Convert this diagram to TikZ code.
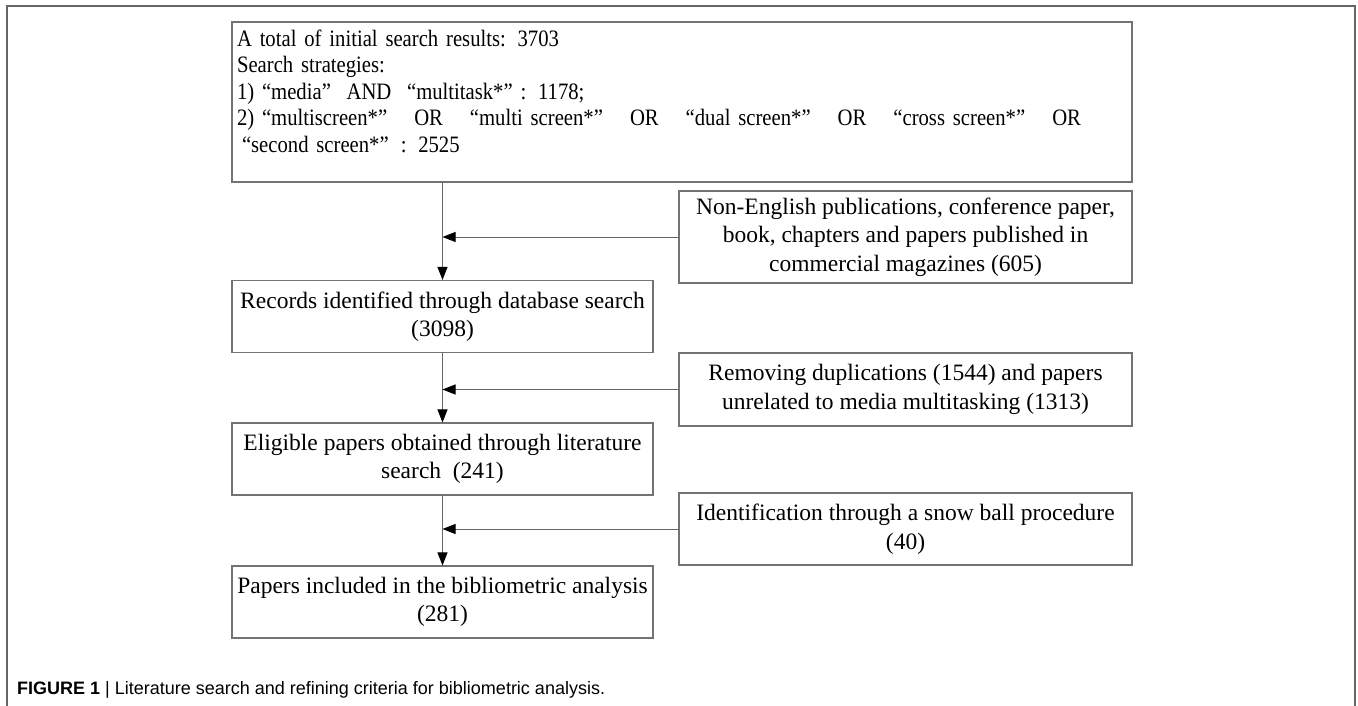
\documentclass[tikz,border=0pt]{standalone}
\usepackage{fontspec}
\setmainfont{Liberation Serif}
\newfontfamily\capfont{Liberation Sans}
\newfontfamily\narrowfont{Liberation Serif}[FakeStretch=0.88]
\newcommand{\qsp}{\hspace{27pt}}
\usetikzlibrary{arrows.meta, positioning}

\begin{document}
\begin{tikzpicture}[
        x=1pt, y=-1pt,
        box/.style={rectangle, draw=black!55, line width=1.1pt, inner sep=0pt, font=\fontsize{23.5}{28.5}\selectfont, align=center},
        stage/.style={box, minimum width=421pt, minimum height=72pt},
        excl/.style={box, minimum width=453pt, minimum height=72pt},
        flow/.style={draw=black!60, line width=1pt, -{Triangle[length=13pt, width=10pt, color=black]}}
    ]
    \useasboundingbox (0,0) rectangle (1358,706);
    % outer frame, open at the bottom
    \draw[black!60, line width=1.6pt] (7,706) -- (7,6) -- (1355,6) -- (1355,706);

    % Search results
    \node[box, minimum width=900pt, minimum height=160pt, text width=890pt, align=left,
          font=\narrowfont\fontsize{23.5}{26.5}\selectfont] (search) at (682,102) {%
        A total of initial search results: 3703\\
        Search strategies:\\
        1)\ “media”\ \ AND\ \ “multitask*”\ : 1178;\\
        2) “multiscreen*”\qsp OR\qsp “multi screen*”\qsp OR\qsp “dual screen*”\qsp OR\qsp “cross screen*”\qsp OR\\
        \hspace{5pt}“second screen*”\hspace{12pt}: 2525\rule[-22pt]{0pt}{1pt}};

    % Main stages (left column)
    \node[stage] (records) at (442.5,316.5) {Records identified through database search\\(3098)};
    \node[stage] (eligible) at (442.5,459) {Eligible papers obtained through literature\\search\ \ (241)};
    \node[stage] (papers) at (442.5,602) {Papers included in the bibliometric analysis\\(281)};

    % Exclusions and additions (right column)
    \node[excl, minimum height=92pt] (noneng) at (905.5,237) {Non-English publications, conference paper,\\book, chapters and papers published in\\commercial magazines (605)};
    \node[excl, minimum height=73pt] (removing) at (905.5,389.5) {Removing duplications (1544) and papers\\unrelated to media multitasking (1313)};
    \node[excl] (snowball) at (905.5,529) {Identification through a snow ball procedure\\(40)};

    % Connectors
    \draw[flow] (records.north |- search.south) -- (records.north);
    \draw[flow] (records.south) -- (eligible.north);
    \draw[flow] (eligible.south) -- (papers.north);
    \draw[flow] (noneng.west) -- (noneng.west -| records.north);
    \draw[flow] (removing.west) -- (removing.west -| records.north);
    \draw[flow] (snowball.west) -- (snowball.west -| records.north);

    % Caption
    \node[anchor=base west, inner sep=0pt, font=\capfont\fontsize{18}{20}\selectfont] (caption) at (17,694)
        {\textbf{FIGURE 1} | Literature search and refining criteria for bibliometric analysis.};
\end{tikzpicture}
\end{document}
